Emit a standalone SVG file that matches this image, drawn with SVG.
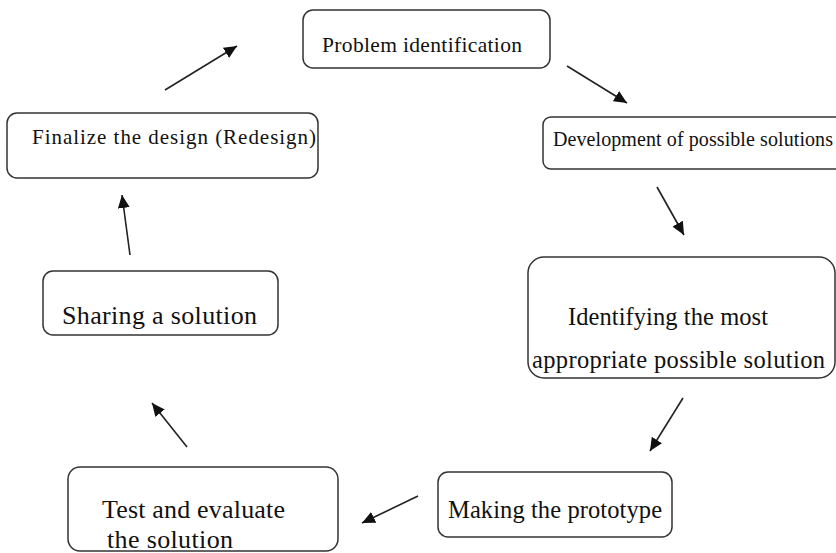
<svg xmlns="http://www.w3.org/2000/svg" width="836" height="553" viewBox="0 0 836 553">
<style>
.box{fill:#fff;stroke:#333;stroke-width:1.5}
.t{font-family:"Liberation Serif","Times New Roman",serif;fill:#111}
.c{stroke:#222;stroke-width:1.6;fill:none;marker-end:url(#ah)}
</style>
<defs>
<marker id="ah" markerUnits="userSpaceOnUse" markerWidth="14" markerHeight="12" refX="13" refY="6" orient="auto">
<path d="M0,0 L13,6 L0,12 z" fill="#111"/>
</marker>
</defs>
<rect width="836" height="553" fill="#fff"/>
<g id="connectors">
<line class="c" x1="165" y1="90" x2="237" y2="46"/>
<line class="c" x1="567" y1="66" x2="627" y2="103"/>
<line class="c" x1="657" y1="187" x2="684" y2="235"/>
<line class="c" x1="683" y1="398" x2="650" y2="451"/>
<line class="c" x1="418" y1="496" x2="362" y2="523"/>
<line class="c" x1="187" y1="447" x2="152" y2="403"/>
<line class="c" x1="130" y1="255" x2="122" y2="195"/>
</g>
<g id="problem">
<rect class="box" x="303" y="10" width="247" height="58" rx="10"/>
<text class="t" x="322" y="52" font-size="21.5" textLength="200">Problem identification</text>
</g>
<g id="development">
<rect class="box" x="543" y="117" width="310" height="52" rx="8"/>
<text class="t" x="553" y="146" font-size="20" textLength="280">Development of possible solutions</text>
</g>
<g id="identifying">
<rect class="box" x="528" y="257" width="307" height="121" rx="16"/>
<text class="t" x="568" y="325" font-size="24.5" textLength="200">Identifying the most</text>
<text class="t" x="532" y="368" font-size="24.5" textLength="293">appropriate possible solution</text>
</g>
<g id="making">
<rect class="box" x="438" y="472" width="234" height="65" rx="10"/>
<text class="t" x="448" y="518" font-size="24.5" textLength="214">Making the prototype</text>
</g>
<g id="test">
<rect class="box" x="68" y="467" width="270" height="84" rx="12"/>
<text class="t" x="102" y="518" font-size="26" textLength="183">Test and evaluate</text>
<text class="t" x="107" y="548" font-size="26" textLength="126">the solution</text>
</g>
<g id="sharing">
<rect class="box" x="43" y="271" width="235" height="64" rx="10"/>
<text class="t" x="62" y="324" font-size="26" textLength="195">Sharing a solution</text>
</g>
<g id="finalize">
<rect class="box" x="7" y="113" width="311" height="65" rx="10"/>
<text class="t" x="32" y="144" font-size="21" textLength="284">Finalize the design (Redesign)</text>
</g>
</svg>
